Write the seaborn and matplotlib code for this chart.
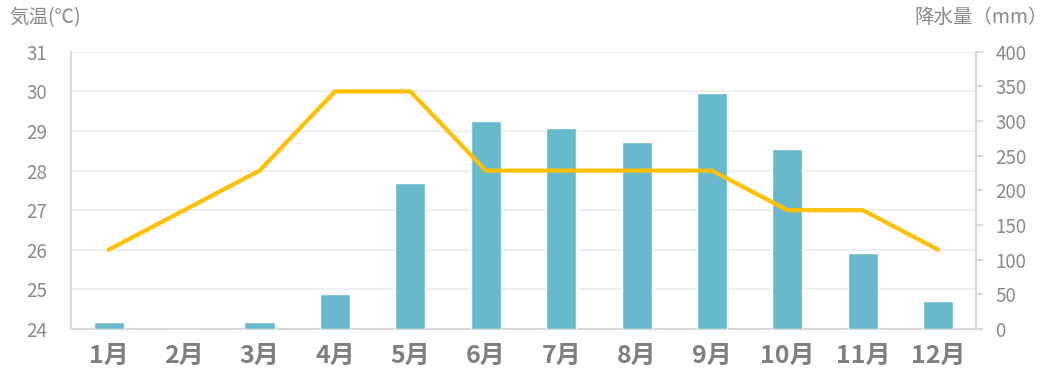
import numpy as np
import pandas as pd
import seaborn as sns
import matplotlib.pyplot as plt
from matplotlib.ticker import FixedLocator, MultipleLocator

months = ["1月", "2月", "3月", "4月", "5月", "6月", "7月", "8月", "9月", "10月", "11月", "12月"]
rain_mm = [10, 0, 10, 50, 210, 300, 290, 270, 340, 260, 110, 40]
temp_c = [26, 27, 28, 30, 30, 28, 28, 28, 28, 27, 27, 26]

sns.set_style("white")
plt.rcParams['font.family'] = ['Noto Sans CJK JP', 'DejaVu Sans']

BAR = "#69B9CC"
LINE = "#FFC000"
AXIS = "#d9d9d9"
TXT = "#8a8a8a"

df = pd.DataFrame({"month": months, "rain": rain_mm, "temp": temp_c})

fig = plt.figure(figsize=(10.56, 3.87), dpi=100)
ax = fig.add_axes([0.0672, 0.150, 0.857, 0.716])

# temperature axis: grid and left ticks
ax.set_ylim(24, 31)
ax.yaxis.set_major_locator(MultipleLocator(1))
ax.grid(axis="y", color="#efefef", linewidth=1.5)
ax.tick_params(axis="y", length=0, pad=17, labelsize=13.5, labelcolor=TXT)
for s in ["top", "right"]:
    ax.spines[s].set_visible(False)
ax.spines["left"].set_color(AXIS)
ax.spines["bottom"].set_color(AXIS)
ax.spines["left"].set_linewidth(1.5)
ax.spines["bottom"].set_linewidth(1.5)

# rainfall bars
axb = ax.twinx()
sns.barplot(data=df, x="month", y="rain", color=BAR, saturation=1, width=0.4, ax=axb)
axb.set_ylim(0, 400)
axb.yaxis.set_major_locator(MultipleLocator(50))
axb.tick_params(axis="y", length=5, width=1.5, color=AXIS, pad=9, labelsize=13.5, labelcolor=TXT)
axb.set_xlabel("")
axb.set_ylabel("")
for s in ["top", "left", "bottom"]:
    axb.spines[s].set_visible(False)
axb.spines["right"].set_color(AXIS)
axb.spines["right"].set_linewidth(1.5)

# temperature line on top
axl = ax.twinx()
sns.lineplot(x=np.arange(len(months)), y=df["temp"], color=LINE, linewidth=3,
             solid_capstyle="round", ax=axl)
axl.set_ylim(24, 31)
axl.set_yticks([])
axl.set_ylabel("")
for s in axl.spines.values():
    s.set_visible(False)

ax.set_xlim(-0.5, len(months) - 0.5)
ax.set_xticks(np.arange(len(months)))
ax.set_xticklabels(months, fontsize=18, fontweight="bold", color="#7f7f7f")
ax.xaxis.set_minor_locator(FixedLocator(np.arange(len(months) + 1) - 0.5))
ax.tick_params(axis="x", which="major", length=0, pad=11)
ax.tick_params(axis="x", which="minor", length=8, width=1.5, color=AXIS)
ax.set_xlabel("")

fig.text(0.009, 0.955, "気温(℃)", fontsize=14, color=TXT, ha="left", va="center")
fig.text(0.992, 0.955, "降水量（mm）", fontsize=14, color=TXT, ha="right", va="center")

fig.savefig("out.png", dpi=100)
